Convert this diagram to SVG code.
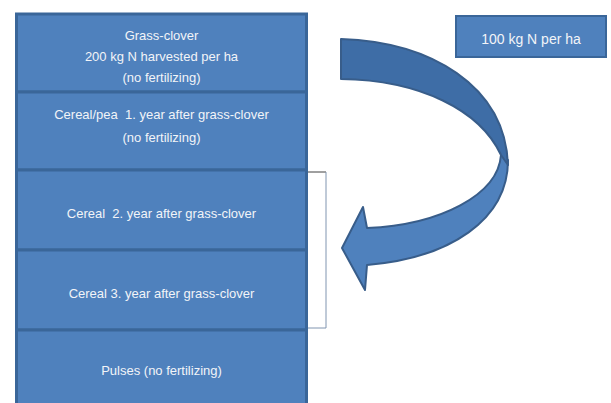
<svg xmlns="http://www.w3.org/2000/svg" width="611" height="403" viewBox="0 0 611 403">
<style>
.box{fill:#4F81BD;stroke:#3A6699;stroke-width:3}
.t{font-family:"Liberation Sans",Arial,sans-serif;font-size:13px;fill:#F2F4F8;text-anchor:middle;white-space:pre}
.t2{font-family:"Liberation Sans",Arial,sans-serif;font-size:14px;fill:#F2F4F8;text-anchor:middle}
.arr{stroke:#385D8A;stroke-width:2;stroke-linejoin:round}
</style>
<rect width="611" height="403" fill="#FFFFFF"/>
<g id="connectors">
<path d="M307,172 H326" fill="none" stroke="#404040" stroke-width="1"/>
<path d="M326,172 V328 H307" fill="none" stroke="#8095B0" stroke-width="1"/>
<g id="curved-arrow">
<path class="arr" fill="#4F81BD" d="M501,155 C498,195 440,225 367,228 L363,207 L342,248 L365,290 L367,265 C450,258 508,220 508,160 Z"/>
<path class="arr" fill="#3E6DA6" d="M341,39 C430,42 505,85 508,165 L501,155 C480,110 420,80 341,79 Z"/>
</g>
</g>
<g id="node-grass-clover">
<rect class="box" x="16.5" y="14" width="290" height="78"/>
<text class="t" x="161.5" y="40">Grass-clover</text>
<text class="t" x="161.5" y="61">200 kg N harvested per ha</text>
<text class="t" x="161.5" y="82">(no fertilizing)</text>
</g>
<g id="node-cereal-pea">
<rect class="box" x="16.5" y="92" width="290" height="78"/>
<text class="t" x="161.5" y="119" xml:space="preserve">Cereal/pea  1. year after grass-clover</text>
<text class="t" x="161.5" y="142">(no fertilizing)</text>
</g>
<g id="node-cereal-2">
<rect class="box" x="16.5" y="170" width="290" height="80"/>
<text class="t" x="161.5" y="218" xml:space="preserve">Cereal  2. year after grass-clover</text>
</g>
<g id="node-cereal-3">
<rect class="box" x="16.5" y="250" width="290" height="80"/>
<text class="t" x="161.5" y="298">Cereal 3. year after grass-clover</text>
</g>
<g id="node-pulses">
<rect class="box" x="16.5" y="330" width="290" height="80"/>
<text class="t" x="161.5" y="375">Pulses (no fertilizing)</text>
</g>
<g id="node-100kg">
<rect class="box" x="456" y="16" width="150" height="41" style="stroke-width:2"/>
<text class="t2" x="531" y="44">100 kg N per ha</text>
</g>
</svg>
